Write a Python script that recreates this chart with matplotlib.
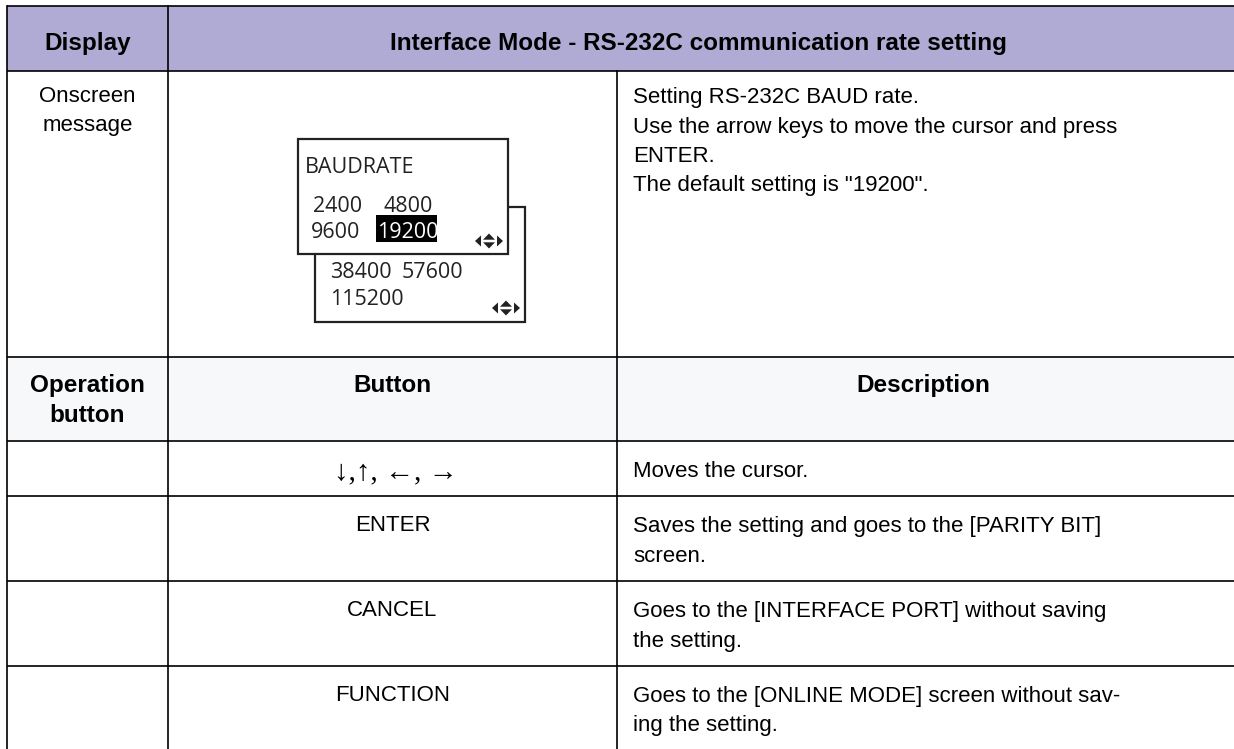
import matplotlib
matplotlib.use("Agg")
from matplotlib import pyplot as plt
from matplotlib.patches import Rectangle, Polygon

# table content
header_left = "Display"
header_right = "Interface Mode - RS-232C communication rate setting"
row_label = ["Onscreen", "message"]
info_lines = ["Setting RS-232C BAUD rate.",
              "Use the arrow keys to move the cursor and press",
              "ENTER.",
              'The default setting is "19200".']
op_headers = [["Operation", "button"], ["Button"], ["Description"]]
buttons = ["\u2193,\u2191, \u2190, \u2192", "ENTER", "CANCEL", "FUNCTION"]
descriptions = [["Moves the cursor."],
                ["Saves the setting and goes to the [PARITY BIT]", "screen."],
                ["Goes to the [INTERFACE PORT] without saving", "the setting."],
                ["Goes to the [ONLINE MODE] screen without sav-", "ing the setting."]]

# LCD screens
lcd_title = "BAUDRATE"
lcd_page1 = [["2400", "4800"], ["9600", "19200"]]
lcd_page2 = [["38400", "57600"], ["115200"]]
lcd_selected = "19200"

# layout (pixels)
W, H = 1234, 749
xl, xc1, xc2, xr = 7, 168, 617, 1240
row_y = [6, 71, 357, 441, 496, 581, 666, 760]
HEAD = "#b0abd5"
SUB = "#f7f8fa"
LINE = "#000000"
FONT = "Liberation Sans"
LCDF = "Open Sans"
fs = 16
fsb = 17.5
lh = 29.5

fig = plt.figure(figsize=(W / 100, H / 100), dpi=100)
ax = fig.add_axes([0, 0, 1, 1])
ax.set_xlim(0, W)
ax.set_ylim(H, 0)
ax.axis("off")

# fills
ax.add_patch(Rectangle((xl, row_y[0]), xr - xl, row_y[1] - row_y[0], facecolor=HEAD, edgecolor="none"))
ax.add_patch(Rectangle((xl, row_y[2]), xr - xl, row_y[3] - row_y[2], facecolor=SUB, edgecolor="none"))

# grid lines
for y in row_y[:-1]:
    ax.plot([xl, xr], [y, y], color=LINE, lw=1.2, solid_capstyle="butt")
ax.plot([xl, xl], [row_y[0], row_y[-1]], color=LINE, lw=1.2)
ax.plot([xc1, xc1], [row_y[0], row_y[-1]], color=LINE, lw=1.2)
ax.plot([xc2, xc2], [row_y[1], row_y[-1]], color=LINE, lw=1.2)

# header
ax.text((xl + xc1) / 2, 50, header_left, fontsize=fsb, fontweight="bold", family=FONT, ha="center", va="baseline")
ax.text((xc1 + 1229) / 2, 50, header_right, fontsize=fsb, fontweight="bold", family=FONT, ha="center", va="baseline")

# display row
for i, s in enumerate(row_label):
    ax.text((xl + xc1) / 2, 102 + i * lh, s, fontsize=fs, family=FONT, ha="center", va="baseline")
for i, s in enumerate(info_lines):
    ax.text(633, 103 + i * lh, s, fontsize=fs, family=FONT, ha="left", va="baseline")

# lcd boxes (back one first)
ax.add_patch(Rectangle((315, 207), 210, 115, facecolor="white", edgecolor="#222222", lw=1.6, zorder=3))
ax.add_patch(Rectangle((298, 139), 210, 115, facecolor="white", edgecolor="#222222", lw=1.6, zorder=4))
ax.text(305, 173, lcd_title, fontsize=15.5, family=LCDF, ha="left", va="baseline", zorder=5, color="#222222")
cols1 = [[313, 383], [311, 377]]
for r, row in enumerate(lcd_page1):
    for c, s in enumerate(row):
        x = cols1[r][c]
        y = 212 + r * 26
        if s == lcd_selected:
            ax.add_patch(Rectangle((x - 1, 215), 61, 27, facecolor="black", edgecolor="none", zorder=5))
            ax.text(x, y, s, fontsize=15.5, family=LCDF, ha="left", va="baseline", zorder=6, color="white")
        else:
            ax.text(x, y, s, fontsize=15.5, family=LCDF, ha="left", va="baseline", zorder=5, color="#222222")
cols2 = [330, 402]
for r, row in enumerate(lcd_page2):
    for c, s in enumerate(row):
        ax.text(cols2[c], 278 + r * 27, s, fontsize=15.5, family=LCDF, ha="left", va="baseline", zorder=5,
                color="#222222")


def nav_icon(x, y, z):
    k = "#222222"
    ax.add_patch(Polygon([(x, y), (x + 6, y - 5.5), (x + 6, y + 5.5)], closed=True, facecolor=k, edgecolor="none",
                         zorder=z))
    ax.add_patch(Polygon([(x + 8, y - 1.3), (x + 14, y - 7.5), (x + 20, y - 1.3)], closed=True, facecolor=k,
                         edgecolor="none", zorder=z))
    ax.add_patch(Polygon([(x + 8, y + 1.3), (x + 14, y + 7.5), (x + 20, y + 1.3)], closed=True, facecolor=k,
                         edgecolor="none", zorder=z))
    ax.add_patch(Polygon([(x + 28, y), (x + 22, y - 5.5), (x + 22, y + 5.5)], closed=True, facecolor=k,
                         edgecolor="none", zorder=z))


nav_icon(475, 241, 6)
nav_icon(492, 308, 5)

# operation header
ax.text((xl + xc1) / 2, 392, op_headers[0][0], fontsize=fsb, fontweight="bold", family=FONT, ha="center", va="baseline")
ax.text((xl + xc1) / 2, 392 + lh, op_headers[0][1], fontsize=fsb, fontweight="bold", family=FONT, ha="center",
        va="baseline")
ax.text((xc1 + xc2) / 2, 392, op_headers[1][0], fontsize=fsb, fontweight="bold", family=FONT, ha="center", va="baseline")
ax.text((xc2 + 1229) / 2, 392, op_headers[2][0], fontsize=fsb, fontweight="bold", family=FONT, ha="center",
        va="baseline")

# button rows
for i, (b, d) in enumerate(zip(buttons, descriptions)):
    top = row_y[3 + i]
    if i == 0:
        ax.text((xc1 + xc2) / 2 + 3, top + 38, b, fontsize=21, family=["Liberation Serif", "DejaVu Serif"],
                ha="center", va="baseline")
    else:
        ax.text((xc1 + xc2) / 2, top + 35, b, fontsize=fs, family=FONT, ha="center", va="baseline")
    for j, s in enumerate(d):
        ax.text(633, top + 36 + j * lh, s, fontsize=fs, family=FONT, ha="left", va="baseline")

fig.savefig("out.png", dpi=100)
